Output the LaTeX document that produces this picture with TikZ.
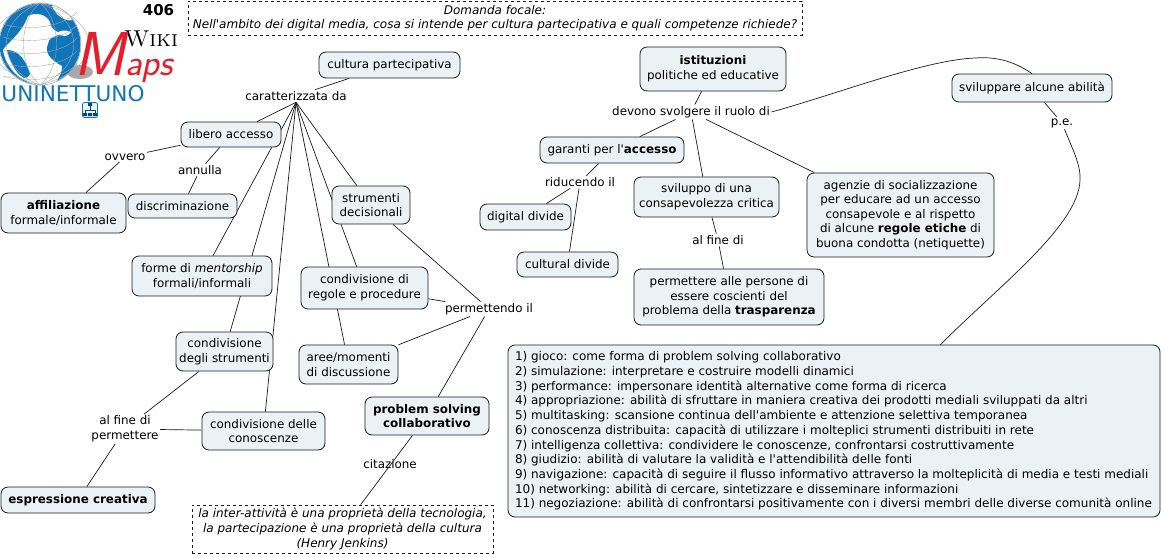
\documentclass[tikz,border=0pt]{standalone}
\usepackage{fontspec}
\usetikzlibrary{backgrounds}
\newfontfamily\mapfont{DejaVu Sans}
\definecolor{boxfill}{HTML}{EBF2F5}
\definecolor{boxline}{HTML}{1A1A1A}
\definecolor{globeblue}{HTML}{0F75BC}
\definecolor{gridgray}{HTML}{A8A8A8}
\definecolor{mapsred}{HTML}{E3202A}
\tikzset{
  concept/.style={draw=boxline, fill=boxfill, rounded corners=7pt, line width=0.8pt, font=\mapfont\fontsize{11.9}{14.6}\selectfont,
    text=black, align=center, inner sep=0pt, minimum width=#1},
  concept/.default=100pt,
  linklabel/.style={font=\mapfont\fontsize{11.9}{14.6}\selectfont, text=black, align=center, inner sep=1.5pt},
  notebox/.style={draw=boxline, dashed, line width=0.7pt, font=\mapfont\itshape\fontsize{12}{14.6}\selectfont, align=center, inner sep=0pt},
  link/.style={draw=boxline, line width=0.7pt}
}

\begin{document}
\begin{tikzpicture}[x=1pt, y=-1pt]

% Background
\useasboundingbox (0,0) rectangle (1164,557);

% Logo
\fill[gridgray] (80,72) ellipse (13 and 7);
\fill[globeblue] (40,44) circle (40.5);
\fill[white] (28,16) .. controls (36,12) and (46,14) .. (50,22) .. controls (50,28) and (56,32) .. (62,34) .. controls (54,36) and (48,38) .. (48,44) .. controls (44,52) and (50,60) .. (62,66) .. controls (62,74) and (58,78) .. (56,82) .. controls (50,85) and (44,85) .. (40,85) .. controls (24,84) and (6,70) .. (3,50) .. controls (6,44) and (22,34) .. (28,16) -- cycle;
\fill[globeblue] (7,50) .. controls (14,50) and (24,54) .. (30,74) .. controls (28,78) and (26,78) .. (24,78) .. controls (16,74) and (10,62) .. (7,50) -- cycle;
\fill[white] (52,6) .. controls (60,6) and (68,10) .. (72,20) .. controls (66,22) and (56,16) .. (52,6) -- cycle;
\fill[white] (58,32) .. controls (62,30) and (68,30) .. (71,32) .. controls (68,37) and (62,38) .. (58,32) -- cycle;
\draw[gridgray, line width=0.6pt] (40,44) circle (41);
\foreach \ang in {22,45,65} {
  \draw[gridgray, line width=0.4pt] (40,3) .. controls (40-\ang,20) and (40-\ang,68) .. (40,85);
  \draw[gridgray, line width=0.4pt] (40,3) .. controls (40+\ang,20) and (40+\ang,68) .. (40,85);
}
\foreach \lat in {18,31,44,57,70} {
  \draw[gridgray, line width=0.4pt] (3,\lat+6) .. controls (20,\lat+12) and (60,\lat+12) .. (77,\lat-6);
}
\node[inner sep=0pt, font=\fontfamily{lmr}\selectfont\scshape\fontsize{23}{23}\selectfont] (wikilogo) at (151,39) {Wiki};
\node[inner sep=0pt, anchor=base west, text=mapsred, font=\fontfamily{lmss}\selectfont\itshape] (mapslogo) at (74,75) {\fontsize{62}{62}\selectfont M\fontsize{37}{37}\selectfont aps};
\node[inner sep=0pt, font=\mapfont\fontsize{21.6}{22}\selectfont, text=globeblue] (unilogo) at (73,94) {UNINETTUNO};
\node[draw=globeblue, fill=boxfill, rounded corners=2pt, line width=0.8pt, minimum size=15pt, inner sep=0pt] (iconlogo) at (90,110) {};
\draw[globeblue!60!black, line width=0.7pt] (90,105) -- (90,110) (85,114) -- (85,110) -- (95,110) -- (95,114);
\fill[globeblue!60!black] (88,103) rectangle (92,106) (83,113) rectangle (87,116) (88,113) rectangle (92,116) (93,113) rectangle (97,116);
\node[font=\mapfont\bfseries\fontsize{15}{15}\selectfont, inner sep=0pt] (number) at (158.5,10) {406};

% Top note
\node[notebox, minimum width=614pt, minimum height=34pt] (focus) at (495,18)
  {Domanda focale:\\Nell'ambito dei digital media, cosa si intende per cultura partecipativa e quali competenze richiede?};

% Left side
\node[concept=141pt, minimum height=26pt] (cultura) at (389.5,65) {cultura partecipativa};
\node[linklabel] (caratt) at (296,96) {caratterizzata da};
\node[concept=100pt, minimum height=25pt] (libero) at (231,134.5) {libero accesso};
\node[linklabel] (ovvero) at (125,157) {ovvero};
\node[linklabel] (annulla) at (200,170) {annulla};
\node[concept=125pt, minimum height=40pt] (affil) at (63.5,213) {\textbf{affiliazione}\\formale/informale};
\node[concept=109pt, minimum height=24pt] (discr) at (182.5,206) {discriminazione};
\node[concept=78pt, minimum height=38pt] (strum) at (371,205) {strumenti\\decisionali};
\node[concept=140pt, minimum height=40pt] (forme) at (202,276) {forme di \textit{mentorship}\\formali/informali};
\node[concept=127pt, minimum height=42pt] (regole) at (364.5,288) {condivisione di\\regole e procedure};
\node[linklabel] (permett) at (489,309) {permettendo il};
\node[concept=99pt, minimum height=39pt] (aree) at (348.5,364.5) {aree/momenti\\di discussione};
\node[concept=97pt, minimum height=39pt] (condstr) at (224.5,351.5) {condivisione\\degli strumenti};
\node[concept=123pt, minimum height=38pt] (condcon) at (263.5,431) {condivisione delle\\conoscenze};
\node[linklabel] (alfine) at (125,429) {al fine di\\permettere};
\node[concept=124pt, minimum height=38pt] (problem) at (427,416) {\textbf{problem solving}\\\textbf{collaborativo}};
\node[concept=154pt, minimum height=26pt] (espress) at (78,500) {\textbf{espressione creativa}};
\node[linklabel] (citaz) at (390,464) {citazione};
\node[notebox, minimum width=301pt, minimum height=48pt] (quote) at (342.5,529)
  {la inter-attività è una proprietà della tecnologia,\\la partecipazione è una proprietà della cultura\\(Henry Jenkins)};

% Right side
\node[concept=146pt, minimum height=44pt] (istit) at (713,69) {\textbf{istituzioni}\\politiche ed educative};
\node[linklabel] (devono) at (691,112) {devono svolgere il ruolo di};
\node[concept=144pt, minimum height=26pt] (garanti) at (612,150) {garanti per l'\textbf{accesso}};
\node[linklabel] (riduc) at (580,182) {riducendo il};
\node[concept=91pt, minimum height=26pt] (digital) at (525.5,217) {digital divide};
\node[concept=101pt, minimum height=25pt] (cultdiv) at (567.5,264.5) {cultural divide};
\node[concept=145pt, minimum height=40pt] (svil) at (706.5,197) {sviluppo di una\\consapevolezza critica};
\node[linklabel] (alfine2) at (718,240) {al fine di};
\node[concept=190pt, minimum height=56pt] (perm) at (729,297) {permettere alle persone di\\essere coscienti del\\problema della \textbf{trasparenza}};
\node[concept=187pt, minimum height=84pt] (agenzie) at (900.5,215) {agenzie di socializzazione\\per educare ad un accesso\\consapevole e al rispetto\\di alcune \textbf{regole etiche} di\\buona condotta (netiquette)};
\node[concept=160pt, minimum height=28pt] (abilita) at (1032,88) {sviluppare alcune abilità};
\node[linklabel] (pe) at (1062,123) {p.e.};
\node[concept=652pt, minimum height=172pt, align=left] (skills) at (834,431) {\begin{minipage}{638pt}\mapfont\fontsize{12}{14.7}\selectfont
1) gioco: come forma di problem solving collaborativo\\
2) simulazione: interpretare e costruire modelli dinamici\\
3) performance: impersonare identità alternative come forma di ricerca\\
4) appropriazione: abilità di sfruttare in maniera creativa dei prodotti mediali sviluppati da altri\\
5) multitasking: scansione continua dell'ambiente e attenzione selettiva temporanea\\
6) conoscenza distribuita: capacità di utilizzare i molteplici strumenti distribuiti in rete\\
7) intelligenza collettiva: condividere le conoscenze, confrontarsi costruttivamente\\
8) giudizio: abilità di valutare la validità e l'attendibilità delle fonti\\
9) navigazione: capacità di seguire il flusso informativo attraverso la molteplicità di media e testi mediali\\
10) networking: abilità di cercare, sintetizzare e disseminare informazioni\\
11) negoziazione: abilità di confrontarsi positivamente con i diversi membri delle diverse comunità online
\end{minipage}};

% Free curve ends
\coordinate (curvetop) at (975,58);
\coordinate (curvebend) at (1080,180);
\coordinate (skillsin) at (940,345);

% Connectors
\begin{pgfonlayer}{background}
\draw[link] (cultura) -- (caratt);
\foreach \target in {libero,forme,condstr,condcon,aree,regole,strum} {
  \draw[link] (caratt.south) -- (\target);
}
\draw[link] (libero) -- (ovvero);
\draw[link] (ovvero) -- (affil);
\draw[link] (libero) -- (annulla);
\draw[link] (annulla) -- (discr);
\draw[link] (strum) -- (permett);
\draw[link] (regole) -- (permett);
\draw[link] (aree) -- (permett);
\draw[link] (permett) -- (problem);
\draw[link] (condstr) -- (alfine);
\draw[link] (condcon) -- (alfine);
\draw[link] (alfine) -- (espress);
\draw[link] (problem) -- (quote);
\draw[link] (istit) -- (devono);
\draw[link] (devono) -- (garanti);
\draw[link] (devono) -- (svil);
\draw[link] (devono) -- (agenzie);
\draw[link] (garanti) -- (riduc);
\draw[link] (riduc) -- (digital);
\draw[link] (riduc) -- (cultdiv);
\draw[link] (svil) -- (alfine2);
\draw[link] (alfine2) -- (perm);
\draw[link] (abilita) -- (pe);
\draw[link] (devono.east) .. controls (840,93) and (925,60) .. (curvetop) .. controls (1000,56) and (1018,64) .. (abilita.north);
\draw[link] (pe) .. controls (1072,148) and (1081,165) .. (curvebend) .. controls (1079,225) and (1000,285) .. (skillsin);
\end{pgfonlayer}

\end{tikzpicture}
\end{document}
